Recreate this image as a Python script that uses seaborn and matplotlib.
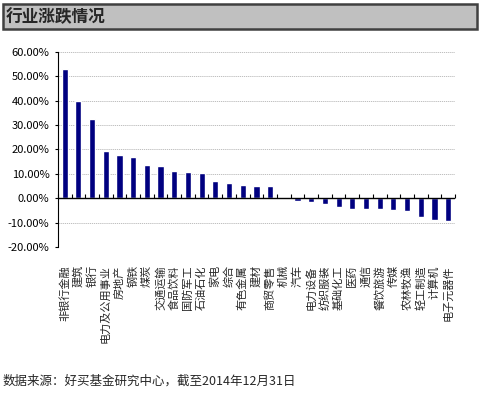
import numpy as np
import seaborn as sns
import matplotlib.pyplot as plt
from matplotlib.patches import Rectangle
from matplotlib.ticker import FuncFormatter

# industry names and 2014 return (%)
industries = ["非银行金融", "建筑", "银行", "电力及公用事业", "房地产", "钢铁", "煤炭",
              "交通运输", "食品饮料", "国防军工", "石油石化", "家电", "综合", "有色金属",
              "建材", "商贸零售", "机械", "汽车", "电力设备", "纺织服装", "基础化工",
              "医药", "通信", "餐饮旅游", "传媒", "农林牧渔", "轻工制造", "计算机",
              "电子元器件"]
returns = [52.9, 39.8, 32.4, 19.4, 17.6, 16.8, 13.5,
           13.1, 11.1, 10.7, 10.2, 7.0, 6.1, 5.3,
           4.9, 4.9, 0.3, -1.1, -1.5, -2.3, -3.5,
           -4.5, -4.5, -4.5, -4.8, -5.2, -7.7, -8.9,
           -9.4]
yticks = [-20, -10, 0, 10, 20, 30, 40, 50, 60]

title = "行业涨跌情况"
source = "数据来源：好买基金研究中心，截至2014年12月31日"

sns.set_style("white")
plt.rcParams['font.family'] = ['Noto Sans CJK SC', 'DejaVu Sans']

fig = plt.figure(figsize=(4.82, 3.96), dpi=100)
ax = fig.add_axes([0.120, 0.376, 0.824, 0.493])

sns.barplot(x=industries, y=returns, color="#000080", width=0.45,
            saturation=1, ax=ax)

ax.set_xlim(-0.5, len(industries) - 0.5)
ax.set_ylim(min(yticks), max(yticks))
ax.set_yticks(yticks)
ax.yaxis.set_major_formatter(FuncFormatter(lambda v, p: f"{v:.2f}%"))
ax.yaxis.grid(True, color="#b4b4b4", linestyle=(0, (1.5, 1)), linewidth=0.6)
ax.set_axisbelow(True)

for s in ["top", "right", "bottom"]:
    ax.spines[s].set_visible(False)
ax.spines["left"].set_color("black")
ax.spines["left"].set_linewidth(0.8)

# zero line with small ticks between categories
ax.axhline(0, color="black", linewidth=1.0)
bounds = np.arange(len(industries) + 1) - 0.5
ax.plot(bounds, np.zeros(len(bounds)), linestyle="none", marker=2,
        markersize=3, markeredgewidth=0.8, color="black", clip_on=False)

ax.tick_params(axis="y", left=True, length=2, width=0.8, pad=4,
               labelsize=8, colors="black")
ax.tick_params(axis="x", bottom=False, length=0, pad=13, labelsize=8)
for lab in ax.get_xticklabels():
    lab.set_rotation(90)
    lab.set_va("top")
    lab.set_ha("center")

# title bar
fig.patches.append(Rectangle((0.006, 0.927), 0.984, 0.063, transform=fig.transFigure,
                             facecolor="#c0c0c0", edgecolor="#404040", linewidth=1.8))
fig.text(0.012, 0.958, title, fontsize=12, fontweight="bold", va="center", ha="left")

fig.text(0.006, 0.038, source, fontsize=9, va="center", ha="left")

fig.savefig("out.png", dpi=100)
